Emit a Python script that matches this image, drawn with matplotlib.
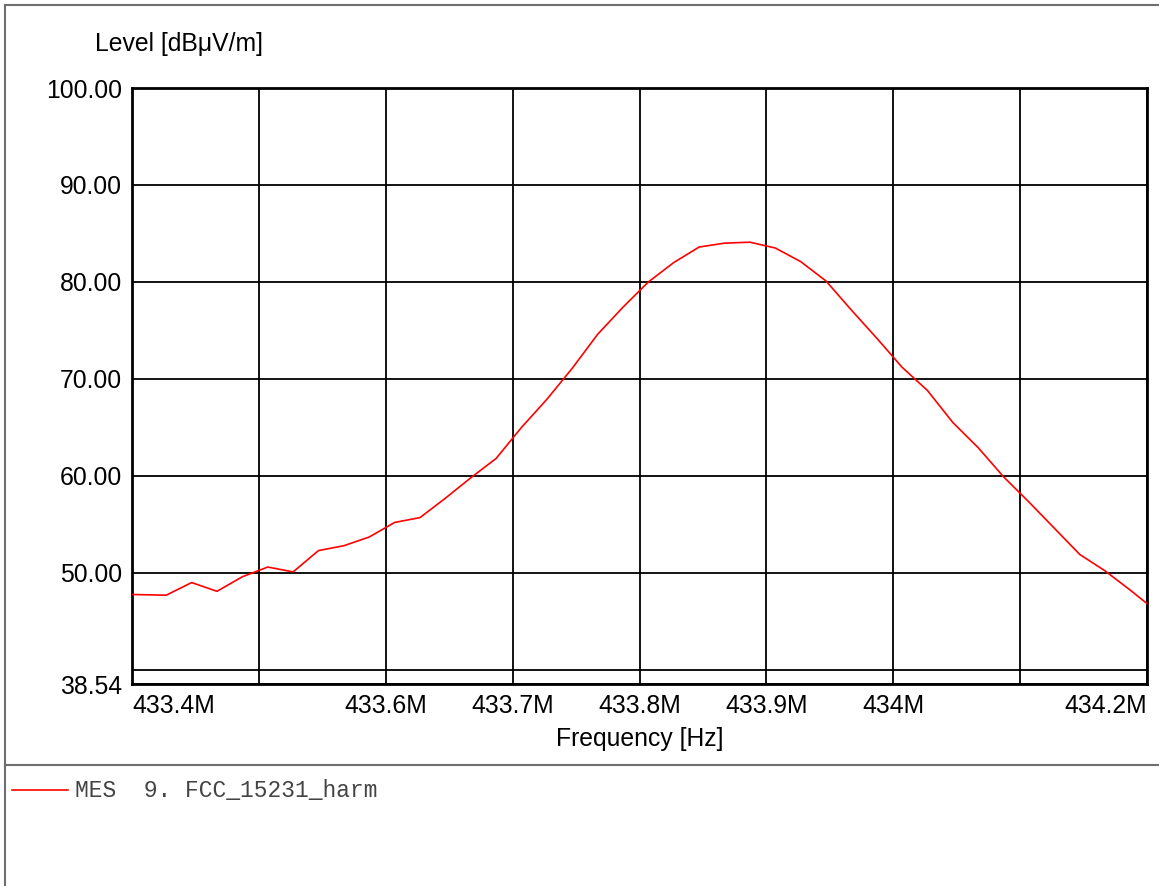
import numpy as np
import matplotlib
matplotlib.use('Agg')
import matplotlib.pyplot as plt
from matplotlib.lines import Line2D

# measured trace, frequency in MHz, level in dBuV/m
freq_mhz = [433.387, 433.427, 433.447, 433.467, 433.487, 433.507, 433.527,
            433.547, 433.567, 433.587, 433.607, 433.627, 433.647, 433.667,
            433.687, 433.707, 433.727, 433.747, 433.767, 433.787, 433.807,
            433.827, 433.847, 433.867, 433.887, 433.907, 433.927, 433.947,
            433.967, 433.987, 434.007, 434.027, 434.047, 434.067, 434.087,
            434.107, 434.127, 434.147, 434.167, 434.187, 434.207]
level = [47.8, 47.7, 49.0, 48.1, 49.6, 50.6, 50.1, 52.3, 52.8, 53.7,
         55.2, 55.7, 57.7, 59.8, 61.8, 65.0, 67.9, 71.1, 74.6, 77.4,
         80.0, 82.0, 83.6, 84.0, 84.1, 83.5, 82.1, 80.1, 77.1, 74.2,
         71.2, 68.8, 65.5, 62.9, 59.9, 57.3, 54.6, 51.9, 50.2, 48.2, 46.1]

x_min, x_max = 433.4, 434.2
y_min, y_max = 38.54, 100.0
x_grid = [433.4, 433.5, 433.6, 433.7, 433.8, 433.9, 434.0, 434.1, 434.2]
x_labels = ['433.4M', '', '433.6M', '433.7M', '433.8M', '433.9M', '434M', '', '434.2M']
y_grid = [38.54, 40, 50, 60, 70, 80, 90, 100]
y_labels = ['38.54', '', '50.00', '60.00', '70.00', '80.00', '90.00', '100.00']
trace_name = 'MES  9. FCC_15231_harm'

sans = 'Liberation Sans'
mono = 'Liberation Mono'
fs = 17.8

W, H = 1159, 886
fig = plt.figure(figsize=(W / 100, H / 100), dpi=100)

# plot area in pixels: left 132, right 1147, top 88, bottom 684
ax = fig.add_axes([132 / W, 1 - 684 / H, (1147 - 132) / W, (684 - 88) / H])
ax.plot(freq_mhz, level, color='#ff0000', lw=1.2, zorder=3)
ax.set_xlim(x_min, x_max)
ax.set_ylim(y_min, y_max)

ax.set_xticks(x_grid)
ax.set_xticklabels(x_labels, fontfamily=sans, fontsize=fs)
ax.set_yticks(y_grid)
ax.set_yticklabels(y_labels, fontfamily=sans, fontsize=fs)
ax.tick_params(length=0, pad=7, colors='black')
ax.grid(True, color='black', lw=1.3)
for s in ax.spines.values():
    s.set_linewidth(2)
    s.set_color('black')

# first and last frequency labels sit flush with the plot edges
xt = ax.get_xticklabels()
xt[0].set_horizontalalignment('left')
xt[-1].set_horizontalalignment('right')

fig.text(95 / W, 1 - 44 / H, 'Level [dB\u03bcV/m]', fontfamily=sans, fontsize=fs,
         ha='left', va='center')
fig.text(640 / W, 1 - 739 / H, 'Frequency [Hz]', fontfamily=sans, fontsize=fs,
         ha='center', va='center')

# outer frame and legend separator
frame = '#6e6e6e'
fig.add_artist(Line2D([5 / W, 5 / W], [0, 1 - 5 / H], color=frame, lw=1.5))
fig.add_artist(Line2D([5 / W, 1], [1 - 5 / H, 1 - 5 / H], color=frame, lw=1.5))
fig.add_artist(Line2D([5 / W, 1], [1 - 765 / H, 1 - 765 / H], color=frame, lw=1.5))

# legend entry
fig.add_artist(Line2D([12 / W, 68 / W], [1 - 790 / H, 1 - 790 / H], color='#ff0000', lw=1.2))
fig.text(75 / W, 1 - 790 / H, trace_name, fontfamily=mono, fontsize=16.5,
         color='#444444', ha='left', va='center')

fig.savefig('out.png', dpi=100)
